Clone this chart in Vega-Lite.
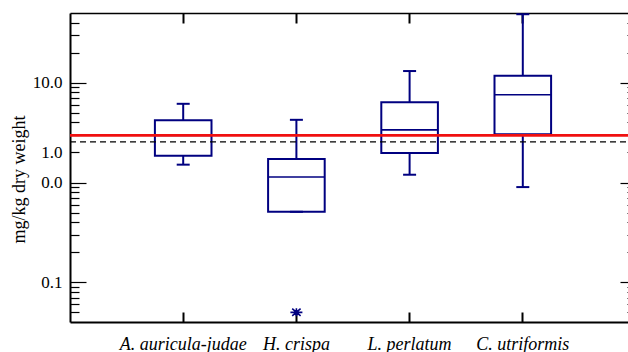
{
  "$schema": "https://vega.github.io/schema/vega-lite/v6.json",
  "width": 566,
  "height": 309,
  "autosize": {"type": "none"},
  "padding": {"left": 70, "top": 13, "right": -8, "bottom": 30},
  "background": "white",
  "config": {
    "view": {"stroke": null},
    "axis": {"grid": false, "domainColor": "black", "tickColor": "black", "labelColor": "black", "titleColor": "black", "labelFont": "Liberation Serif", "titleFont": "Liberation Serif", "titleFontWeight": "normal"}
  },
  "datasets": {
    "boxes": [
      {"species": "A. auricula-judae", "min": 1.51, "q1": 1.86, "median": 2.97, "q3": 4.21, "max": 6.15},
      {"species": "H. crispa", "min": 0.509, "q1": 0.509, "median": 1.135, "q3": 1.72, "max": 4.25},
      {"species": "L. perlatum", "min": 1.197, "q1": 1.98, "median": 3.37, "q3": 6.38, "max": 13.1},
      {"species": "C. utriformis", "min": 0.9, "q1": 3.04, "median": 7.57, "q3": 11.76, "max": 48.6}
    ],
    "outliers": [{"species": "H. crispa", "value": 0.05}],
    "reference": [{"kind": "limit", "value": 2.97}, {"kind": "mean", "value": 2.55}]
  },
  "layer": [
    {
      "data": {"name": "boxes"},
      "mark": {"type": "rule", "color": "#000080", "strokeWidth": 2},
      "encoding": {
        "x": {"field": "species", "type": "nominal", "scale": {"type": "band", "domain": ["A. auricula-judae", "H. crispa", "L. perlatum", "C. utriformis"], "paddingInner": 0, "paddingOuter": 0.5},
          "axis": {"orient": "bottom", "title": null, "labelFont": "Liberation Serif", "labelFontStyle": "italic", "labelFontSize": 18, "labelAngle": 0, "tickSize": -10, "tickWidth": 2, "labelPadding": 23, "domainWidth": 2}},
        "y": {"field": "q3", "type": "quantitative", "scale": {"type": "log", "domain": [0.04, 50], "nice": false},
          "axis": {"orient": "left", "title": "mg/kg dry weight", "titleFontSize": 18, "titleX": -46, "titleY": 166, "titleAngle": -90, "titleBaseline": "alphabetic", "titleAlign": "center",
            "values": [0.05, 0.06, 0.07, 0.08, 0.09, 0.1, 0.2, 0.3, 0.4, 0.5, 0.6, 0.7, 0.8, 0.9, 1, 2, 3, 4, 5, 6, 7, 8, 9, 10, 20, 30, 40],
            "labelExpr": "datum.value == 10 ? '10.0' : datum.value == 2 ? '1.0' : datum.value == 1 ? '0.0' : datum.value == 0.1 ? '0.1' : ''",
            "labelOverlap": false, "labelFontSize": 17, "labelBaseline": "middle",
            "tickSize": {"condition": {"test": "datum.value == 10 || datum.value == 1 || datum.value == 0.1", "value": -16}, "value": -9},
            "labelPadding": {"condition": {"test": "datum.value == 10 || datum.value == 1 || datum.value == 0.1", "value": 24}, "value": 17},
            "tickWidth": 1.2, "domainWidth": 2}},
        "y2": {"field": "max"}
      }
    },
    {
      "data": {"name": "boxes"},
      "mark": {"type": "rule", "color": "#000080", "strokeWidth": 2},
      "encoding": {
        "x": {"field": "species", "type": "nominal", "axis": null},
        "y": {"field": "min", "type": "quantitative", "axis": null},
        "y2": {"field": "q1"}
      }
    },
    {
      "data": {"name": "boxes"},
      "mark": {"type": "bar", "fill": "transparent", "stroke": "#000080", "strokeWidth": 2, "width": {"band": 0.5}},
      "encoding": {
        "x": {"field": "species", "type": "nominal", "axis": null},
        "y": {"field": "q1", "type": "quantitative", "axis": null},
        "y2": {"field": "q3"}
      }
    },
    {
      "data": {"name": "boxes"},
      "mark": {"type": "tick", "color": "#000080", "size": 57, "thickness": 1.6, "opacity": 1},
      "encoding": {
        "x": {"field": "species", "type": "nominal", "axis": null},
        "y": {"field": "median", "type": "quantitative", "axis": null}
      }
    },
    {
      "data": {"name": "boxes"},
      "mark": {"type": "tick", "color": "#000080", "size": 13, "thickness": 2, "opacity": 1},
      "encoding": {
        "x": {"field": "species", "type": "nominal", "axis": {"orient": "top", "title": null, "labels": false, "tickSize": -10, "tickWidth": 2, "domainWidth": 1.5}},
        "y": {"field": "max", "type": "quantitative",
          "axis": {"orient": "right", "title": null, "labels": false,
            "values": [0.05, 0.06, 0.07, 0.08, 0.09, 0.1, 0.2, 0.3, 0.4, 0.5, 0.6, 0.7, 0.8, 0.9, 1, 2, 3, 4, 5, 6, 7, 8, 9, 10, 20, 30, 40],
            "tickSize": {"condition": {"test": "datum.value == 10 || datum.value == 1 || datum.value == 0.1", "value": -16}, "value": -9},
            "tickWidth": 1.2, "domainWidth": 1.5}}
      }
    },
    {
      "data": {"name": "boxes"},
      "mark": {"type": "tick", "color": "#000080", "size": 13, "thickness": 2, "opacity": 1},
      "encoding": {
        "x": {"field": "species", "type": "nominal", "axis": null},
        "y": {"field": "min", "type": "quantitative", "axis": null}
      }
    },
    {
      "data": {"name": "outliers"},
      "mark": {"type": "point", "shape": "M-1,0L1,0M0,-0.67L0,0.67M-0.7,-0.6L0.7,0.6M-0.7,0.6L0.7,-0.6", "size": 144, "filled": false, "stroke": "#000080", "strokeWidth": 1.6, "opacity": 1},
      "encoding": {
        "x": {"field": "species", "type": "nominal", "axis": null},
        "y": {"field": "value", "type": "quantitative", "axis": null}
      }
    },
    {
      "data": {"name": "reference"},
      "transform": [{"filter": "datum.kind == 'mean'"}],
      "mark": {"type": "rule", "color": "black", "strokeWidth": 1.3, "strokeDash": [6, 4]},
      "encoding": {
        "y": {"field": "value", "type": "quantitative", "axis": null}
      }
    },
    {
      "data": {"name": "reference"},
      "transform": [{"filter": "datum.kind == 'limit'"}],
      "mark": {"type": "rule", "color": "#f01010", "strokeWidth": 2.7},
      "encoding": {
        "y": {"field": "value", "type": "quantitative", "axis": null}
      }
    }
  ],
  "resolve": {"axis": {"x": "independent", "y": "independent"}}
}
